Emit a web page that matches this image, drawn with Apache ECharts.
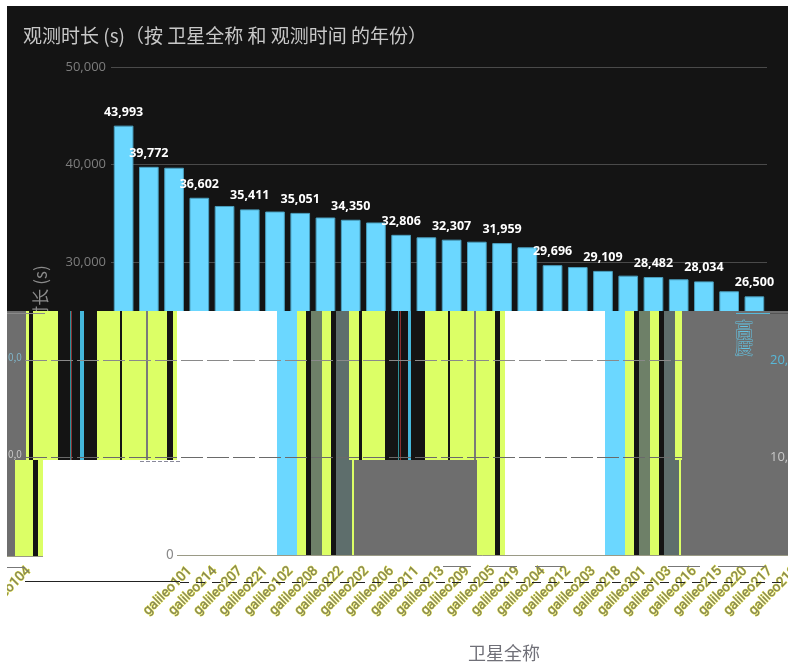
<!DOCTYPE html>
<html>
<head>
<meta charset="utf-8">
<style>
  html, body { margin: 0; padding: 0; background: #fff; }
  #dark { position: absolute; left: 7px; top: 6px; width: 781px; height: 305px; background: #141414; }
  #main { position: absolute; left: 0; top: 0; width: 788px; height: 668px; }
</style>
<script src="https://cdn.jsdelivr.net/npm/echarts@6/dist/echarts.min.js"></script>
</head>
<body>
<div id="dark"></div>
<div id="main"></div>
<script>
const titleText = '观测时长 (s)（按 卫星全称 和 观测时间 的年份）';
const yAxisName = '观测时长 (s)';
const xAxisName = '卫星全称';
const categories = ['galileo104', 'galileo101', 'galileo214', 'galileo207', 'galileo221', 'galileo102', 'galileo208',
    'galileo222', 'galileo202', 'galileo206', 'galileo211', 'galileo213', 'galileo209', 'galileo205', 'galileo219',
    'galileo204', 'galileo212', 'galileo203', 'galileo218', 'galileo201', 'galileo103', 'galileo216', 'galileo215',
    'galileo220', 'galileo217', 'galileo210'];
const durations = [43993, 39772, 39680, 36602, 35760, 35411, 35190, 35051, 34580, 34350, 34070, 32806, 32550,
    32307, 32100, 31959, 31530, 29696, 29500, 29109, 28620, 28482, 28250, 28034, 27020, 26500];
const labelledBars = [0, 1, 3, 5, 7, 9, 11, 13, 15, 17, 19, 21, 23, 25];

const LIME = '#dcff66', DARK = '#141414', GRAY = '#6e6e6e', CYAN = '#6bd7ff', WHITE = '#ffffff',
    SAGE = '#6e8068', SLATE = '#5e6e6c', MID = '#7a7a7a';

// the lower half of the reference is a corrupted screen capture, these strips redo that damage (not data)
const stripTop = [[7, 26, GRAY], [26, 29, LIME], [29, 33, DARK], [33, 58, LIME], [58, 97, DARK], [70, 71, '#2f8f98'],
    [71, 72, '#8a3030'], [80, 84, '#45b8dc'], [97, 120, LIME], [120, 122, DARK], [122, 146, LIME], [146, 148, MID],
    [148, 167, LIME], [167, 173, DARK], [173, 177, LIME], [177, 277, WHITE], [277, 297, CYAN], [297, 306, LIME],
    [306, 311, DARK], [311, 322, SAGE], [322, 331, LIME], [331, 336, DARK], [336, 349, SLATE], [349, 359, LIME],
    [359, 362, DARK], [362, 385, LIME], [385, 425, DARK], [398, 399, '#2f8f98'], [400, 401, '#8a3030'],
    [408, 411, '#45b8dc'], [425, 448, LIME], [448, 450, DARK], [450, 474, LIME], [474, 476, MID], [476, 495, LIME],
    [495, 500, DARK], [500, 505, LIME], [505, 605, WHITE], [605, 625, CYAN], [625, 634, LIME], [634, 639, DARK],
    [639, 650, SAGE], [650, 659, LIME], [659, 664, DARK], [664, 675, SLATE], [675, 682, LIME], [682, 788, GRAY]];
const stripBottom = [[7, 15, GRAY], [15, 33, LIME], [33, 38, DARK], [38, 43, LIME], [43, 277, WHITE], [277, 297, CYAN],
    [297, 306, LIME], [306, 311, DARK], [311, 322, SAGE], [322, 331, LIME], [331, 336, DARK], [336, 352, SLATE],
    [352, 354, LIME], [354, 477, GRAY], [477, 495, LIME], [495, 500, DARK], [500, 505, LIME], [505, 605, WHITE],
    [605, 625, CYAN], [625, 634, LIME], [634, 639, DARK], [639, 650, SAGE], [650, 659, LIME], [659, 664, DARK],
    [664, 679, SLATE], [679, 681, LIME], [681, 788, GRAY]];

function stripRects(strip, y0, y1) {
    return strip.map(function (s) {
        return { type: 'rect', silent: true, z: 100, shape: { x: s[0], y: y0, width: s[1] - s[0], height: y1 - y0 }, style: { fill: s[2] } };
    });
}
function hLine(x0, x1, y, color, dash) {
    return { type: 'line', silent: true, z: 101, shape: { x1: x0, y1: y, x2: x1, y2: y }, style: { stroke: color, lineWidth: 1, lineDash: dash || null } };
}
function glitchText(text, x, y, color, size, stroke) {
    return { type: 'text', silent: true, z: 102, x: x, y: y, style: { text: text, fill: color, stroke: stroke || null, lineWidth: stroke ? 1 : 0, font: size + 'px "Noto Sans CJK SC"' } };
}

const graphics = [].concat(
    stripRects(stripTop, 311, 460),
    stripRects(stripBottom, 460, 556),
    [
        { type: 'rect', silent: true, z: 100, shape: { x: 0, y: 0, width: 7, height: 668 }, style: { fill: '#fff' } },
        hLine(25, 682, 360.5, '#8a8a8a', [22, 4]),
        hLine(25, 682, 457.5, '#6a6a6a', [22, 4]),
        hLine(177, 788, 555.5, '#9a9a86'),
        hLine(7, 43, 556.5, '#9a9a86'),
        hLine(140, 181, 461.5, '#8a8a9a', [4, 2]),
        hLine(7, 45, 313.5, '#8a8a8a'),
        hLine(736, 770, 313.5, '#58b8d8'),
        hLine(770, 788, 313.5, '#555555'),
        hLine(7, 25, 567.5, '#777'),
        hLine(25, 180, 581.5, '#222'),
        hLine(180, 788, 582.5, '#222', [9, 7]),
        hLine(443, 575, 566.5, '#777', [28, 18]),
        hLine(668, 700, 566.5, '#777'),
        hLine(718, 766, 566.5, '#777'),
        glitchText('0', 166, 547, '#8a8a8a', 14),
        glitchText('0,0', 8, 352, '#7fb4c8', 10),
        glitchText('0,0', 8, 449, '#c8c8c8', 10),
        glitchText('高\n度', 735, 320, '#6e6e6e', 18, '#64c4e4')
    ]
);

const grid = { top: 67, height: 488, width: 656, outerBoundsMode: 'none' };
const tickLabel = {
    interval: 0, rotate: 45, margin: 14, color: '#808060', fontSize: 13.5, fontFamily: 'Roboto',
    textBorderColor: '#dcdc3c', textBorderWidth: 1,
    textShadowColor: '#2c2ce0', textShadowBlur: 0, textShadowOffsetX: 1, textShadowOffsetY: 1
};
const myChart = echarts.init(document.getElementById('main'));

const option = {
    backgroundColor: 'transparent',
    animation: false,
    title: [
        { text: titleText, left: 18, top: 21, textStyle: { color: '#c8c8c8', fontSize: 19, fontWeight: 'normal', fontFamily: '"Noto Sans CJK SC"' } },
        { text: xAxisName, left: 463, top: 639, textStyle: { color: '#707078', fontSize: 18, fontWeight: 'normal', fontFamily: '"Noto Sans CJK SC"', textShadowColor: '#4040d0', textShadowBlur: 0, textShadowOffsetX: 1, textShadowOffsetY: 0 } }
    ],
    grid: [
        Object.assign({ left: 111 }, grid),
        Object.assign({ left: 152 }, grid),
        Object.assign({ left: 16 }, grid)
    ],
    xAxis: [
        { type: 'category', gridIndex: 0, data: categories, axisLine: { show: false }, axisTick: { show: false }, axisLabel: { show: false } },
        {
            type: 'category', gridIndex: 1, data: categories, axisLine: { show: false }, axisTick: { show: false },
            axisLabel: Object.assign({}, tickLabel, { formatter: function (v, i) { return i === 0 ? '' : v; } })
        },
        {
            type: 'category', gridIndex: 2, data: categories, axisLine: { show: false }, axisTick: { show: false },
            axisLabel: Object.assign({}, tickLabel, { formatter: function (v, i) { return i === 0 ? v : ''; } })
        }
    ],
    yAxis: [
        {
            type: 'value', gridIndex: 0, min: 0, max: 50000, interval: 10000,
            name: yAxisName, nameLocation: 'middle', nameGap: 62,
            nameTextStyle: { color: '#8a8a8a', fontSize: 17, fontFamily: '"Noto Sans CJK SC"' },
            axisLabel: { color: '#7d7d7d', fontSize: 13, fontFamily: '"Open Sans"', margin: 5, formatter: function (v) { return v === 0 ? '' : echarts.format.addCommas(v); } },
            splitLine: { lineStyle: { color: '#4a4a4a' } }
        },
        {
            type: 'value', gridIndex: 0, position: 'right', min: 0, max: 50000, interval: 10000, z: 200,
            axisLine: { show: false }, axisTick: { show: false }, splitLine: { show: false },
            axisLabel: {
                margin: 3, fontSize: 13, fontFamily: '"Open Sans"',
                color: function (v) { return +v === 20000 ? '#58b8d8' : '#c8c8c8'; },
                formatter: function (v) { return v === 10000 || v === 20000 ? echarts.format.addCommas(v) : ''; }
            }
        },
        { type: 'value', gridIndex: 1, show: false },
        { type: 'value', gridIndex: 2, show: false }
    ],
    series: [
        {
            name: '观测时长 (s)',
            type: 'bar',
            xAxisIndex: 0,
            yAxisIndex: 0,
            barCategoryGap: '22%',
            data: durations,
            itemStyle: { color: CYAN, borderColor: '#4a9fbe', borderWidth: 1 },
            label: {
                show: true, position: 'top', distance: 7, color: '#fff', fontSize: 12.5, fontWeight: 'bold', fontFamily: '"Open Sans"',
                formatter: function (p) {
                    return labelledBars.indexOf(p.dataIndex) >= 0 ? echarts.format.addCommas(p.value) : '';
                }
            },
            labelLayout: function (p) {
                // keep labels inside the grid like the original does
                if (p.rect.x < 111) return { dx: 111 - p.rect.x };
                if (p.rect.x + p.rect.width > 767) return { dx: 767 - p.rect.x - p.rect.width };
                return {};
            }
        }
    ],
    graphic: { elements: graphics }
};

myChart.setOption(option);
</script>
</body>
</html>
